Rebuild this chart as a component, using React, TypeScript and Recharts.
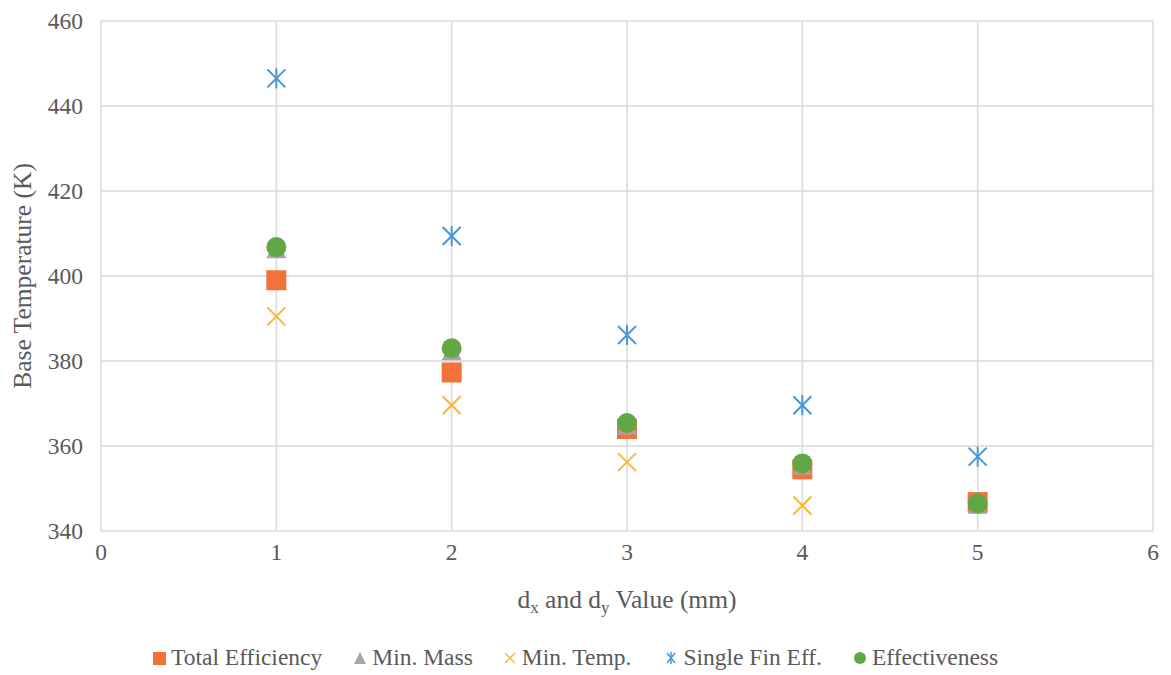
import React from 'react'
import { ScatterChart, Scatter, XAxis, YAxis, CartesianGrid } from 'recharts'

const xValues = [1, 2, 3, 4, 5]
const totalEfficiency = [399, 377.3, 364, 354.5, 346.8]
const minMass = [406.3, 382.3, 364.8, 355.4, 346.2]
const minTemp = [390.5, 369.6, 356.2, 346, 346.4]
const singleFinEff = [446.5, 409.4, 386.1, 369.6, 357.5]
const effectiveness = [406.8, 383, 365.4, 355.9, 346.5]

const xTicks = [0, 1, 2, 3, 4, 5, 6]
const yTicks = [340, 360, 380, 400, 420, 440, 460]

const FONT = 'Liberation Serif, DejaVu Serif, serif'
const TEXT = '#595959'
const GRID = '#d9d9d9'

const COLORS = {
  total: '#F4713A',
  mass: '#A5A5A5',
  temp: '#FDB535',
  single: '#4A96D8',
  eff: '#62A745',
}

const toPoints = (ys: number[]) => xValues.map((x, i) => ({ x, y: ys[i] }))

type ShapeProps = { cx?: number; cy?: number }

const SquareShape = ({ cx = 0, cy = 0 }: ShapeProps) => (
  <rect x={cx - 10} y={cy - 10} width={20} height={20} fill={COLORS.total} />
)

const TriangleShape = ({ cx = 0, cy = 0 }: ShapeProps) => (
  <polygon
    points={`${cx},${cy - 10} ${cx + 10},${cy + 9} ${cx - 10},${cy + 9}`}
    fill={COLORS.mass}
  />
)

const CrossShape = ({ cx = 0, cy = 0 }: ShapeProps) => (
  <g stroke={COLORS.temp} strokeWidth={2}>
    <line x1={cx - 9} y1={cy - 9} x2={cx + 9} y2={cy + 9} />
    <line x1={cx - 9} y1={cy + 9} x2={cx + 9} y2={cy - 9} />
  </g>
)

const StarShape = ({ cx = 0, cy = 0 }: ShapeProps) => (
  <g stroke={COLORS.single} strokeWidth={2}>
    <line x1={cx - 9} y1={cy - 9} x2={cx + 9} y2={cy + 9} />
    <line x1={cx - 9} y1={cy + 9} x2={cx + 9} y2={cy - 9} />
    <line x1={cx} y1={cy - 10} x2={cx} y2={cy + 10} />
  </g>
)

const CircleShape = ({ cx = 0, cy = 0 }: ShapeProps) => (
  <circle cx={cx} cy={cy} r={10} fill={COLORS.eff} />
)

function YTitle(props: { viewBox?: { x: number; y: number; width: number; height: number } }) {
  const vb = props.viewBox || { x: 0, y: 0, width: 0, height: 0 }
  const cy = vb.y + vb.height / 2
  return (
    <text
      x={22}
      y={cy}
      transform={`rotate(-90 22 ${cy})`}
      textAnchor="middle"
      dominantBaseline="central"
      style={{ fontFamily: FONT }}
      fontSize={25.5}
      fill={TEXT}
    >
      Base Temperature (K)
    </text>
  )
}

function XTitle() {
  return (
    <text x={627} y={608} textAnchor="middle" style={{ fontFamily: FONT }} fontSize={25.5} fill={TEXT}>
      d<tspan fontSize={17} dy={5}>x</tspan>
      <tspan dy={-5}> and d</tspan>
      <tspan fontSize={17} dy={5}>y</tspan>
      <tspan dy={-5}> Value (mm)</tspan>
    </text>
  )
}

const legendItems = [
  { name: 'Total Efficiency', marker: 'square', color: COLORS.total, gap: 0 },
  { name: 'Min. Mass', marker: 'triangle', color: COLORS.mass, gap: 31 },
  { name: 'Min. Temp.', marker: 'cross', color: COLORS.temp, gap: 30 },
  { name: 'Single Fin Eff.', marker: 'star', color: COLORS.single, gap: 33 },
  { name: 'Effectiveness', marker: 'circle', color: COLORS.eff, gap: 31 },
]

function LegendMarker({ marker, color }: { marker: string; color: string }) {
  return (
    <svg width={14} height={14} style={{ marginRight: 5 }}>
      {marker === 'square' && <rect x={1} y={1} width={13} height={13} fill={color} />}
      {marker === 'triangle' && <polygon points="7,1 13,13 1,13" fill={color} />}
      {marker === 'cross' && (
        <g stroke={color} strokeWidth={1.5}>
          <line x1={2} y1={2} x2={12} y2={12} />
          <line x1={2} y1={12} x2={12} y2={2} />
        </g>
      )}
      {marker === 'star' && (
        <g stroke={color} strokeWidth={1.5}>
          <line x1={3} y1={2} x2={11} y2={12} />
          <line x1={3} y1={12} x2={11} y2={2} />
          <line x1={7} y1={1} x2={7} y2={13} />
        </g>
      )}
      {marker === 'circle' && <circle cx={7} cy={7} r={6} fill={color} />}
    </svg>
  )
}

export default function App() {
  return (
    <div style={{ position: 'absolute', left: 0, top: 0, width: 1171, height: 675, background: '#fff', fontFamily: FONT }}>
      <ScatterChart width={1171} height={675} margin={{ top: 21, right: 18, left: 0, bottom: 104 }}>
        <CartesianGrid stroke={GRID} strokeWidth={1.5} />
        <XAxis
          type="number"
          dataKey="x"
          domain={[0, 6]}
          ticks={xTicks}
          axisLine={false}
          tickLine={false}
          tickMargin={6}
          height={40}
          tick={{ fill: TEXT, fontSize: 23.5, style: { fontFamily: FONT } }}
          label={<XTitle />}
        />
        <YAxis
          type="number"
          dataKey="y"
          domain={[340, 460]}
          ticks={yTicks}
          axisLine={false}
          tickLine={false}
          tickMargin={12}
          width={101}
          tick={{ fill: TEXT, fontSize: 23.5, style: { fontFamily: FONT } }}
          label={<YTitle />}
        />
        <Scatter name="Single Fin Eff." data={toPoints(singleFinEff)} shape={<StarShape />} isAnimationActive={false} />
        <Scatter name="Min. Temp." data={toPoints(minTemp)} shape={<CrossShape />} isAnimationActive={false} />
        <Scatter name="Total Efficiency" data={toPoints(totalEfficiency)} shape={<SquareShape />} isAnimationActive={false} />
        <Scatter name="Min. Mass" data={toPoints(minMass)} shape={<TriangleShape />} isAnimationActive={false} />
        <Scatter name="Effectiveness" data={toPoints(effectiveness)} shape={<CircleShape />} isAnimationActive={false} />
      </ScatterChart>
      <div
        style={{
          position: 'absolute',
          left: 152,
          top: 644,
          display: 'flex',
          alignItems: 'center',
          fontSize: 23.5,
          color: TEXT,
          whiteSpace: 'nowrap',
        }}
      >
        {legendItems.map((it) => (
          <div key={it.name} style={{ display: 'flex', alignItems: 'center', marginLeft: it.gap }}>
            <LegendMarker marker={it.marker} color={it.color} />
            <span>{it.name}</span>
          </div>
        ))}
      </div>
    </div>
  )
}
